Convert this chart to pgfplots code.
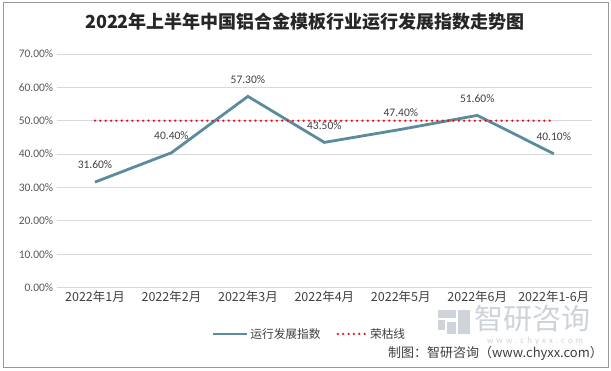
\documentclass[border=0pt]{standalone}
\usepackage{pgfplots}
\pgfplotsset{compat=1.18}
\usepackage{fontspec}
\setmainfont{Carlito}
\newfontfamily\cjk{Noto Sans CJK SC}
\newfontfamily\carl{Carlito}
\definecolor{lineblue}{HTML}{5B8C9E}
\definecolor{dotred}{HTML}{E3131B}
\definecolor{gridgray}{HTML}{D9D9D9}
\definecolor{ticklab}{HTML}{595959}
\definecolor{txt}{HTML}{404040}
\definecolor{wm}{HTML}{CDD3D9}
\begin{document}
\begin{tikzpicture}[x=1pt,y=1pt]
\useasboundingbox (0,0) rectangle (611,370);
\fill[white] (0,0) rectangle (611,370);
\draw[color=black!40, line width=1pt] (3,3) rectangle (608,367);
% watermark
\node[text=wm, font={\cjk\fontsize{29}{29}\selectfont}] at (532,51) {智研咨询};
\node[text=wm, font={\carl\fontsize{9}{9}\selectfont}] at (535,29) {w\,\,w\,\,w\,\,.\,\,c\,\,h\,\,y\,\,x\,\,x\,\,.\,\,c\,\,o\,\,m};
\fill[wm] (438,52) rectangle (456,60);
\fill[wm] (438,40) rectangle (445,50);
\fill[wm] (458,36) rectangle (470,60);
\fill[wm] (447,36) rectangle (456,48);
\begin{axis}[
  at={(56.75pt,82.5pt)}, anchor=south west,
  scale only axis, width=535.25pt, height=233.5pt,
  xmin=-0.5, xmax=6.5, ymin=0, ymax=0.7,
  xtick={0,1,2,3,4,5,6},
  xticklabels={2022年1月,2022年2月,2022年3月,2022年4月,2022年5月,2022年6月,2022年1-6月},
  ytick={0,0.1,0.2,0.3,0.4,0.5,0.6,0.7},
  yticklabels={0.00\%,10.00\%,20.00\%,30.00\%,40.00\%,50.00\%,60.00\%,70.00\%},
  xticklabel style={font={\cjk\fontsize{12.5}{12.5}\selectfont}, text=txt},
  yticklabel style={font={\carl\fontsize{11.5}{11.5}\selectfont}, text=ticklab},
  major tick length=0pt,
  axis line style={draw=none},
  ymajorgrids, major grid style={gridgray, line width=0.8pt},
  clip=false,
  legend style={at={(0.472,-0.199)}, anchor=center, draw=none, fill=none,
    font={\cjk\fontsize{11.7}{11.7}\selectfont}, text=txt,
    /tikz/every even column/.append style={column sep=14pt}},
  legend columns=2,
]
\addplot[lineblue, line width=2.8pt, mark=none,
  point meta={y*100},
  nodes near coords={\pgfmathprintnumber[fixed,fixed zerofill,precision=2,assume math mode=true]{\pgfplotspointmeta}\%},
  every node near coord/.append style={font={\carl\fontsize{11.5}{11.5}\selectfont}, text=txt, anchor=center, yshift=17pt},
  legend image code/.code={\draw[lineblue, line width=2.8pt] (0pt,0pt) -- (34pt,0pt);}
] coordinates {(0,0.316) (1,0.404) (2,0.573) (3,0.435) (4,0.474) (5,0.516) (6,0.401)};
\addlegendentry{运行发展指数}
\addplot[dotred, line width=2.5pt, line cap=round, dash pattern=on 0pt off 5.35pt, mark=none,
  legend image code/.code={\draw[dotred, line width=2.5pt, line cap=round, dash pattern=on 0pt off 5.35pt] (1pt,0pt) -- (30pt,0pt);}
] coordinates {(0,0.5) (1,0.5) (2,0.5) (3,0.5) (4,0.5) (5,0.5) (6,0.5)};
\addlegendentry{荣枯线}
\end{axis}
\node[font={\cjk\bfseries\fontsize{18}{18}\selectfont}, text=black!85] at (305,348) {2022年上半年中国铝合金模板行业运行发展指数走势图};
\node[anchor=east, font={\cjk\fontsize{13}{13}\selectfont}, text=txt, inner sep=0pt] at (603,17) {制图：智研咨询（www.chyxx.com）};
\end{tikzpicture}
\end{document}
